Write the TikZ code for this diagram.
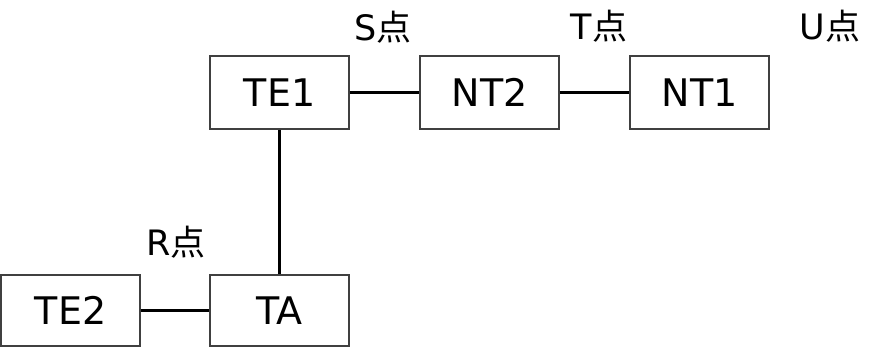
\documentclass[tikz,border=0pt]{standalone}
\usepackage{fontspec}
\setmainfont{DejaVu Sans}
\newfontfamily\cjkfont{Noto Sans CJK SC}
\begin{document}
\begin{tikzpicture}[x=0.5pt,y=-0.5pt,
    unit/.style={draw=black!75, line width=0.6pt, minimum width=69.5pt, minimum height=36.5pt, inner sep=0pt, font=\fontsize{19}{21}\selectfont},
    point/.style={inner sep=0pt, font=\fontsize{17.5}{19}\selectfont},
    link/.style={line width=1.1pt}]
    \useasboundingbox (0,0) rectangle (870,356);

    % units
        \node[unit] (TE1) at (279.5,92.5) {TE1};
        \node[unit] (NT2) at (489.5,92.5) {NT2};
        \node[unit] (NT1) at (699.5,92.5) {NT1};
        \node[unit, minimum height=35.5pt] (TE2) at (70.5,310.5) {TE2};
        \node[unit, minimum height=35.5pt] (TA) at (279.5,310.5) {TA};

    % reference points
        \node[point] (S) at (383,27) {S{\cjkfont 点}};
        \node[point] (T) at (599,26) {T{\cjkfont 点}};
        \node[point] (U) at (830,26) {U{\cjkfont 点}};
        \node[point] (R) at (176,242) {R{\cjkfont 点}};

    % links
        \draw[link] (TE1) -- (NT2);
        \draw[link] (NT2) -- (NT1);
        \draw[link] (TE1) -- (TA);
        \draw[link] (TE2) -- (TA);

\end{tikzpicture}
\end{document}
